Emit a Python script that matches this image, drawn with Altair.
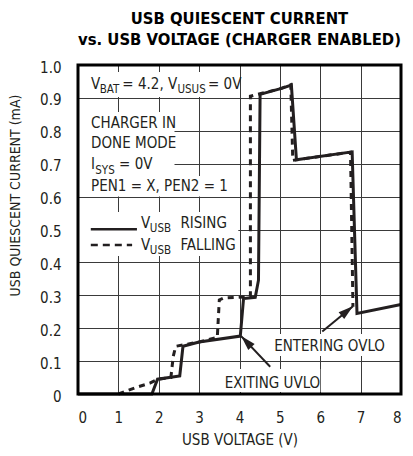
import math
import altair as alt
import pandas as pd

FONT = "DejaVu Sans Condensed, DejaVu Sans, sans-serif"
INK = "#231f20"

# ---- series (USB voltage V, quiescent current mA) ----
rise_x = [0, 1.83, 1.97, 2.52, 2.60, 3.0, 4.02, 4.10, 4.39, 4.47, 4.51, 5.04, 5.285, 5.41, 6.79, 6.91, 8.0]
rise_y = [0, 0, 0.045, 0.055, 0.145, 0.158, 0.176, 0.290, 0.294, 0.346, 0.911, 0.929, 0.939, 0.712, 0.736, 0.245, 0.272]
fall_x = [1.0, 1.46, 1.78, 1.97, 2.30, 2.36, 2.42, 3.0, 3.45, 3.50, 3.61, 4.27, 4.27, 5.04, 5.27, 5.32, 5.41, 6.75, 6.81]
fall_y = [0, 0.021, 0.033, 0.045, 0.050, 0.115, 0.145, 0.158, 0.172, 0.286, 0.292, 0.296, 0.905, 0.929, 0.940, 0.710, 0.712, 0.735, 0.265]

x_ticks = [0, 1, 2, 3, 4, 5, 6, 7, 8]
y_ticks = [0, 0.1, 0.2, 0.3, 0.4, 0.5, 0.6, 0.7, 0.8, 0.9, 1.0]

title_lines = ["USB QUIESCENT CURRENT", "vs. USB VOLTAGE (CHARGER ENABLED)"]
title_x = [4.0, 4.0]
title_y = [1.1246, 1.0608]
x_title = "USB VOLTAGE (V)"
y_title = "USB QUIESCENT CURRENT (mA)"

# ---- annotation text segments (data coordinates) ----
ann_text = ["V", "BAT", "= 4.2, V", "USUS", "= 0V",
            "CHARGER IN", "DONE MODE", "I", "SYS", "= 0V", "PEN1 = X, PEN2 = 1",
            "V", "USB", "RISING", "V", "USB", "FALLING",
            "ENTERING OVLO", "EXITING UVLO"]
ann_x = [0.324, 0.537, 1.098, 2.463, 3.22,
         0.324, 0.324, 0.324, 0.427, 1.017, 0.324,
         1.561, 1.78, 2.537, 1.561, 1.78, 2.537,
         4.86, 3.634]
ann_y = [0.926, 0.914, 0.926, 0.914, 0.926,
         0.8076, 0.7468, 0.6824, 0.670, 0.6824, 0.617,
         0.5036, 0.4915, 0.5036, 0.4377, 0.4255, 0.4377,
         0.1316, 0.0173]
ann_size = [15, 11.5, 15, 11.5, 15,
            15, 15, 15, 11.5, 15, 15,
            15, 11.5, 15, 15, 11.5, 15,
            15, 15]

# white backgrounds behind the text blocks
box_x1 = [0.0, 0.0, 0.0, 0.0, 4.78, 3.56]
box_x2 = [3.97, 2.39, 3.63, 3.97, 7.56, 6.0]
box_y1 = [0.9027, 0.6626, 0.600, 0.4195, 0.1155, 0.006]
box_y2 = [0.9787, 0.857, 0.6626, 0.553, 0.1824, 0.076]

# legend sample lines
leg_x1 = [0.317, 0.317]
leg_x2 = [1.46, 1.34]
leg_y = [0.501, 0.453]
leg_kind = ["RISING", "FALLING"]

# arrows: tail -> tip
arr_x1 = [4.76, 6.05]
arr_y1 = [0.083, 0.19]
arr_x2 = [4.04, 6.81]
arr_y2 = [0.176, 0.267]

W, H = 323, 329
XMAX, YMAX = 8.0, 1.0

rise = pd.DataFrame({"x": rise_x, "y": rise_y, "i": range(len(rise_x))})
fall = pd.DataFrame({"x": fall_x, "y": fall_y, "i": range(len(fall_x))})
ann = pd.DataFrame({"x": ann_x, "y": ann_y, "t": ann_text, "fs": ann_size})
ttl = pd.DataFrame({"x": title_x, "y": title_y, "t": title_lines})
boxes = pd.DataFrame({"x": box_x1, "x2": box_x2, "y": box_y1, "y2": box_y2})
legs = pd.DataFrame({"x": leg_x1, "x2": leg_x2, "y": leg_y, "k": leg_kind})


def head_angle(x1, y1, x2, y2):
    dx = (x2 - x1) * W / XMAX
    dy = -(y2 - y1) * H / YMAX
    return math.degrees(math.atan2(dx, -dy)) % 360


arrows = pd.DataFrame({"x": arr_x1, "y": arr_y1, "x2": arr_x2, "y2": arr_y2})
heads = pd.DataFrame({"x": arr_x2, "y": arr_y2,
                      "a": [head_angle(a, b, c, d) for a, b, c, d in zip(arr_x1, arr_y1, arr_x2, arr_y2)]})

xs = alt.Scale(domain=[0, XMAX], nice=False, zero=False)
ys = alt.Scale(domain=[0, YMAX], nice=False, zero=False)

x_axis = alt.Axis(values=x_ticks, format="d", grid=True, ticks=False, tickSize=0, domain=False,
                  labelFont=FONT, labelFontSize=15, labelColor=INK, labelPadding=28,
                  labelBaseline="alphabetic",
                  title=x_title, titleFont=FONT, titleFontSize=15, titleFontWeight="normal",
                  titleColor=INK, titleY=50, titleBaseline="alphabetic",
                  gridColor="#3a3a3a", gridWidth=1)
y_axis = alt.Axis(values=y_ticks, grid=True, ticks=False, tickSize=0, domain=False,
                  labelExpr="datum.value == 0 ? '0' : format(datum.value, '.1f')",
                  labelFont=FONT, labelFontSize=15, labelColor=INK, labelPadding=17,
                  labelOffset=2,
                  title=y_title, titleFont=FONT, titleFontSize=14, titleFontWeight="normal",
                  titleColor=INK, titleX=-63, titleY=130, titleBaseline="middle",
                  titleAlign="center", titleAngle=270,
                  gridColor="#3a3a3a", gridWidth=1)


def X(f="x:Q"):
    return alt.X(f, scale=xs, axis=x_axis)


def Y(f="y:Q"):
    return alt.Y(f, scale=ys, axis=y_axis)


box_layer = alt.Chart(boxes).mark_rect(fill="white", stroke=None).encode(
    x=X(), x2="x2:Q", y=Y(), y2="y2:Q",
)

text_layer = alt.Chart(ann).mark_text(font=FONT, align="left", baseline="alphabetic", color=INK).encode(
    x=X(), y=Y(), text="t:N",
    size=alt.Size("fs:Q", scale=None, legend=None),
)

title_layer = alt.Chart(ttl).mark_text(font=FONT, fontWeight="bold", fontSize=16.5, align="center",
                                       baseline="alphabetic", color="black").encode(
    x=X(), y=Y(), text="t:N",
)

leg_solid = alt.Chart(legs[legs.k == "RISING"]).mark_rule(color=INK, strokeWidth=2.5).encode(
    x=X(), x2="x2:Q", y=Y(),
)
leg_dash = alt.Chart(legs[legs.k == "FALLING"]).mark_rule(color=INK, strokeWidth=2.5,
                                                          strokeDash=[7, 5]).encode(
    x=X(), x2="x2:Q", y=Y(),
)

fall_layer = alt.Chart(fall).mark_line(color=INK, strokeWidth=3, strokeDash=[6, 5],
                                       strokeCap="butt", strokeJoin="miter").encode(
    x=X(), y=Y(), order="i:Q",
)
rise_layer = alt.Chart(rise).mark_line(color=INK, strokeWidth=3, strokeJoin="miter").encode(
    x=X(), y=Y(), order="i:Q",
)

arrow_layer = alt.Chart(arrows).mark_rule(color=INK, strokeWidth=2).encode(
    x=X(), x2="x2:Q", y=Y(), y2="y2:Q",
)
head_layer = alt.Chart(heads).mark_point(shape="M0,0L-0.7,2.4L0.7,2.4Z", filled=True, color=INK,
                                         opacity=1, size=156).encode(
    x=X(), y=Y(), angle=alt.Angle("a:Q", scale=None),
)

frame = alt.Chart(pd.DataFrame({"a": [0]})).mark_rect(fillOpacity=0, stroke="black", strokeWidth=3).encode(
    x=alt.X(datum=0, scale=xs, axis=x_axis), x2=alt.X2(datum=XMAX),
    y=alt.Y(datum=0, scale=ys, axis=y_axis), y2=alt.Y2(datum=YMAX),
)

chart = alt.layer(
    box_layer, text_layer, title_layer, leg_solid, leg_dash,
    fall_layer, rise_layer, arrow_layer, head_layer, frame,
).properties(
    width=W, height=H,
    padding={"left": 70, "top": 57, "right": 4, "bottom": 54},
    autosize=alt.AutoSizeParams(type="none"),
).configure_view(stroke=None).configure(background="white")

chart.save("out.html", embed_options={"renderer": "svg", "actions": False})
